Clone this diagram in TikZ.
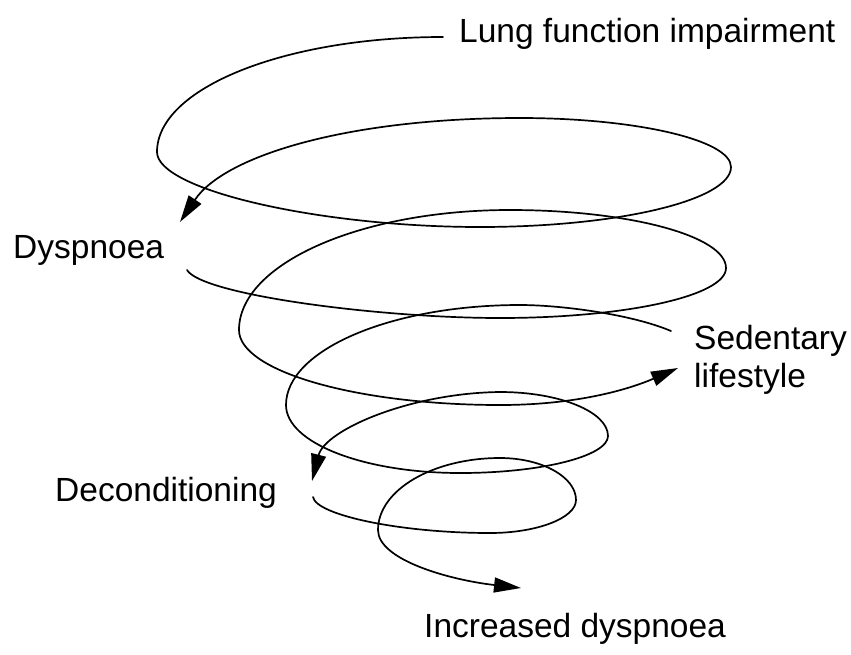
\documentclass[tikz,border=0pt]{standalone}
\usepackage{fontspec}
\setmainfont{Liberation Sans}
\usetikzlibrary{arrows.meta}

\begin{document}
\begin{tikzpicture}[x=1pt,y=-1pt,
        curl/.style={line width=1.7pt,line cap=round},
        curlarrow/.style={curl,-{Triangle[length=27pt,width=15pt]}},
        lbl/.style={font=\fontsize{33.5}{38}\selectfont,inner sep=0pt}]
        \useasboundingbox (0,0) rectangle (851,654);

        \node[lbl,anchor=base west] (lung) at (459,42) {Lung function impairment};
        \node[lbl,anchor=base west] (dysp) at (13,258) {Dyspnoea};
        \node[lbl,anchor=north west,align=left] (sed) at (694,325) {Sedentary\\lifestyle};
        \node[lbl,anchor=base west] (decond) at (55,501) {Deconditioning};
        \node[lbl,anchor=base west] (incr) at (424,637) {Increased dyspnoea};

        % first turn, down to Dyspnoea
        \draw[curlarrow] (443,37) .. controls (285,37) and (157,88) .. (157,152)
            .. controls (157,190) and (320,227) .. (480,227)
            .. controls (619,227) and (731,200) .. (731,167)
            .. controls (731,140) and (636,118) .. (520,118)
            .. controls (350,118) and (225,155) .. (180,222);
        % second turn, out to Sedentary lifestyle
        \draw[curlarrow] (187,270) .. controls (202,295) and (380,318) .. (500,318)
            .. controls (625,318) and (726,296) .. (726,268)
            .. controls (726,236) and (629,210) .. (510,210)
            .. controls (360,210) and (239,264) .. (239,330)
            .. controls (239,371) and (356,405) .. (500,405)
            .. controls (580,405) and (632,388) .. (678,368);
        % third turn, down to Deconditioning
        \draw[curlarrow] (671,331) .. controls (631,314) and (560,305) .. (520,305)
            .. controls (391,305) and (286,350) .. (286,405)
            .. controls (286,443) and (364,473) .. (460,473)
            .. controls (542,473) and (608,456) .. (608,436)
            .. controls (608,412) and (560,392) .. (500,392)
            .. controls (410,393) and (325,430) .. (312,481);
        % last turn, to Increased dyspnoea
        \draw[curlarrow] (313,497) .. controls (316,515) and (400,533) .. (490,533)
            .. controls (537,533) and (576,518) .. (576,500)
            .. controls (576,477) and (542,458) .. (500,458)
            .. controls (433,458) and (378,490) .. (378,530)
            .. controls (378,560) and (450,580) .. (521,588);
\end{tikzpicture}
\end{document}
